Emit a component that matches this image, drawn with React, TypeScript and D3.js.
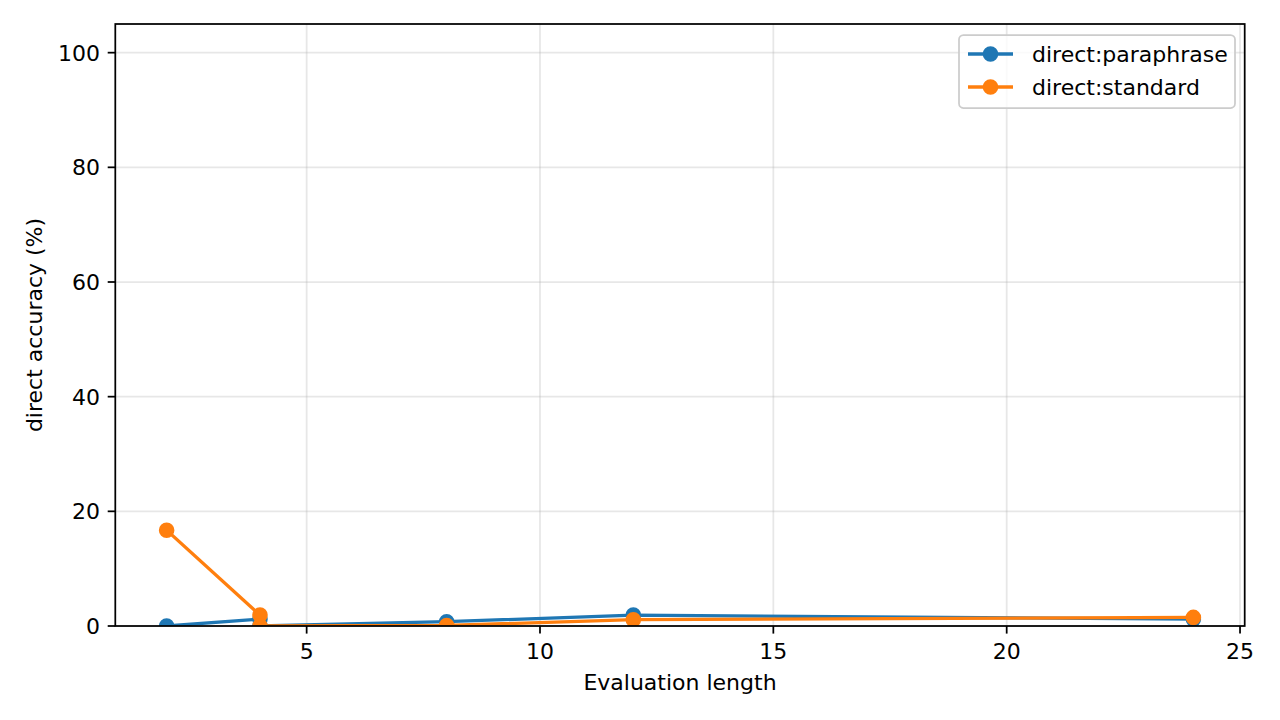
import React from "react";
import * as d3 from "d3";

const lengths = [2, 4, 4, 8, 12, 24];
const paraphrase = [0, 1.2, 0, 0.75, 1.9, 1.2];
const standard = [16.7, 1.9, 0, 0.1, 1.1, 1.5];
const seriesNames = ["direct:paraphrase", "direct:standard"];
const seriesColors = ["#1f77b4", "#ff7f0e"];
const xTicks = [5, 10, 15, 20, 25];
const yTicks = [0, 20, 40, 60, 80, 100];
const xLabel = "Evaluation length";
const yLabel = "direct accuracy (%)";

const W = 1280;
const H = 720;
const FONT = "'DejaVu Sans', sans-serif";
const FS = 22;

export default function App() {
  const left = 115.3, right = 1244.7, top = 24, bottom = 626;
  const x = d3.scaleLinear().domain([0.9, 25.1]).range([left, right]);
  const y = d3.scaleLinear().domain([0, 105]).range([bottom, top]);
  const allSeries = [paraphrase, standard];
  const line = d3
    .line<[number, number]>()
    .x((d) => x(d[0]))
    .y((d) => y(d[1]));
  const lw = 3.3;
  const mr = 6.7;
  const mew = 2.2;
  const tickLen = 7.6;
  const tickW = 1.75;

  const legX = 959, legY = 35, legW = 276, legH = 73;
  const rows = [54, 87];

  return (
    <svg
      width={W}
      height={H}
      viewBox={`0 0 ${W} ${H}`}
      style={{ position: "absolute", left: 0, top: 0, display: "block", background: "#fff" }}
      fontFamily={FONT}
    >
      <defs>
        <clipPath id="plotclip">
          <rect x={left} y={top} width={right - left} height={bottom - top} />
        </clipPath>
      </defs>
      <rect x={0} y={0} width={W} height={H} fill="#fff" />
      {/* grid */}
      <g stroke="#b0b0b0" strokeOpacity={0.3} strokeWidth={1.75}>
        {xTicks.map((t) => (
          <line key={"gx" + t} x1={x(t)} x2={x(t)} y1={top} y2={bottom} />
        ))}
        {yTicks.map((t) => (
          <line key={"gy" + t} x1={left} x2={right} y1={y(t)} y2={y(t)} />
        ))}
      </g>
      {/* series */}
      <g clipPath="url(#plotclip)">
        {allSeries.map((vals, si) => {
          const pts: [number, number][] = lengths.map((l, i) => [l, vals[i]]);
          return (
            <g key={"s" + si}>
              <path
                d={line(pts) || ""}
                fill="none"
                stroke={seriesColors[si]}
                strokeWidth={lw}
                strokeLinejoin="round"
                strokeLinecap="square"
              />
              {pts.map((p, i) => (
                <circle
                  key={i}
                  cx={x(p[0])}
                  cy={y(p[1])}
                  r={mr}
                  fill={seriesColors[si]}
                  stroke={seriesColors[si]}
                  strokeWidth={mew}
                />
              ))}
            </g>
          );
        })}
      </g>
      {/* spines */}
      <rect
        x={left}
        y={top}
        width={right - left}
        height={bottom - top}
        fill="none"
        stroke="#000"
        strokeWidth={1.75}
      />
      {/* x ticks */}
      {xTicks.map((t) => (
        <g key={"xt" + t}>
          <line x1={x(t)} x2={x(t)} y1={bottom} y2={bottom + tickLen} stroke="#000" strokeWidth={tickW} />
          <text x={x(t)} y={659} textAnchor="middle" fontSize={FS} fill="#000">
            {t}
          </text>
        </g>
      ))}
      {/* y ticks */}
      {yTicks.map((t) => (
        <g key={"yt" + t}>
          <line x1={left - tickLen} x2={left} y1={y(t)} y2={y(t)} stroke="#000" strokeWidth={tickW} />
          <text x={left - tickLen - 7.6} y={y(t) + 8} textAnchor="end" fontSize={FS} fill="#000">
            {t}
          </text>
        </g>
      ))}
      <text x={(left + right) / 2} y={690} textAnchor="middle" fontSize={FS} fill="#000">
        {xLabel}
      </text>
      <text
        transform={`translate(42.3, ${(top + bottom) / 2}) rotate(-90)`}
        textAnchor="middle"
        fontSize={FS}
        fill="#000"
      >
        {yLabel}
      </text>
      {/* legend */}
      <rect
        x={legX}
        y={legY}
        width={legW}
        height={legH}
        rx={4.4}
        ry={4.4}
        fill="#fff"
        fillOpacity={0.8}
        stroke="#cccccc"
        strokeWidth={1.75}
      />
      {seriesNames.map((n, i) => (
        <g key={"lg" + i}>
          <line x1={968} x2={1013} y1={rows[i]} y2={rows[i]} stroke={seriesColors[i]} strokeWidth={lw} />
          <circle cx={990.5} cy={rows[i]} r={mr} fill={seriesColors[i]} stroke={seriesColors[i]} strokeWidth={mew} />
          <text x={1032} y={rows[i] + 7.7} fontSize={FS} fill="#000">
            {n}
          </text>
        </g>
      ))}
    </svg>
  );
}
